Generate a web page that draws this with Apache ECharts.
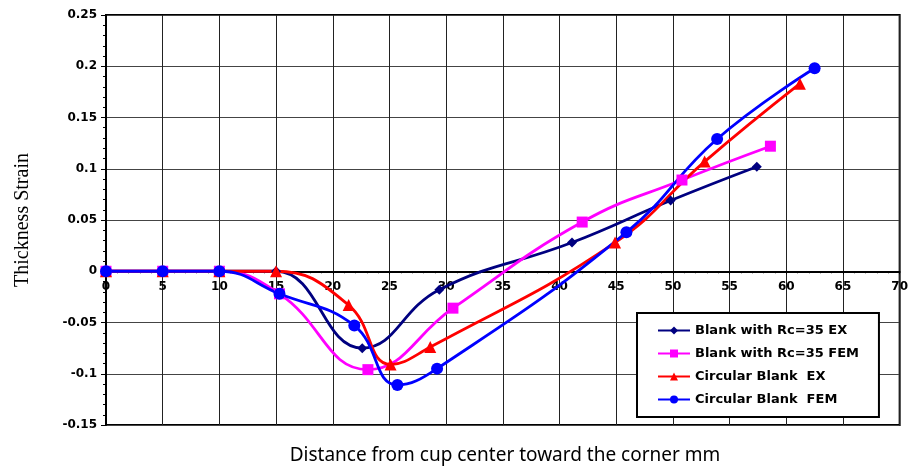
<!DOCTYPE html>
<html>
<head>
<meta charset="utf-8">
<script src="https://cdn.jsdelivr.net/npm/echarts@6/dist/echarts.min.js"></script>
<style>
  html, body { margin: 0; padding: 0; background: #fff; }
  #chart { width: 911px; height: 473px; }
</style>
</head>
<body>
<div id="chart"></div>
<script>
// Series data: [distance mm, thickness strain]
const rcEx = [[0, 0], [5, 0], [10, 0], [15, 0], [22.6, -0.075], [29.4, -0.018], [41.1, 0.028], [49.8, 0.069], [57.4, 0.102]];
const rcFem = [[0, 0], [5, 0], [10, 0], [15.3, -0.022], [23.1, -0.096], [30.6, -0.036], [42.0, 0.048], [50.8, 0.089], [58.6, 0.122]];
const circEx = [[0, 0], [5, 0], [10, 0], [15, 0], [21.4, -0.033], [25.1, -0.091], [28.6, -0.074], [44.9, 0.028], [52.8, 0.107], [61.2, 0.183]];
const circFem = [[0, 0], [5, 0], [10, 0], [15.3, -0.022], [21.9, -0.053], [25.7, -0.111], [29.2, -0.095], [45.9, 0.038], [53.9, 0.129], [62.5, 0.198]];

const seriesNames = ['Blank with Rc=35 EX', 'Blank with Rc=35 FEM', 'Circular Blank  EX', 'Circular Blank  FEM'];
const seriesColors = ['#000080', '#ff00ff', '#ff0000', '#0000ff'];
const seriesSymbols = ['diamond', 'rect', 'triangle', 'circle'];
const seriesSizes = [10, 11, 12, 12];
const seriesData = [rcEx, rcFem, circEx, circFem];

const chart = echarts.init(document.getElementById('chart'));

const labelFont = { fontFamily: 'DejaVu Sans', fontWeight: 'bold', fontSize: 12, color: '#000' };

// grid geometry: the x axis is drawn along the zero line
const gridTop = 15, gridBottom = 48;
const yMin = -0.15, yMax = 0.25;
const plotH = 473 - gridTop - gridBottom;
const zeroOffset = plotH * (0 - yMin) / (yMax - yMin);

const option = {
    animation: false,
    grid: {
        left: 106, right: 8, top: gridTop, bottom: gridBottom,
        show: true, borderColor: '#000', borderWidth: 2, backgroundColor: '#fff'
    },
    legend: {
        orient: 'vertical',
        left: 637, top: 313,
        padding: [11, 20, 11, 20],
        itemGap: 10,
        itemWidth: 32, itemHeight: 10,
        backgroundColor: '#fff',
        borderColor: '#000', borderWidth: 2,
        textStyle: { fontFamily: 'DejaVu Sans', fontWeight: 'bold', fontSize: 13, color: '#000' },
        data: seriesNames
    },
    xAxis: {
        type: 'value',
        min: 0, max: 70, interval: 5,
        offset: -zeroOffset,
        axisLine: { onZero: false, lineStyle: { color: '#000', width: 2 } },
        axisTick: { show: true, length: 3, lineStyle: { color: '#000' } },
        minorTick: { show: true, splitNumber: 5, length: 2, lineStyle: { color: '#000' } },
        axisLabel: Object.assign({ margin: 10 }, labelFont),
        splitLine: { show: true, lineStyle: { color: '#222', width: 1 } }
    },
    yAxis: {
        type: 'value',
        min: yMin, max: yMax, interval: 0.05,
        name: 'Thickness Strain',
        nameLocation: 'middle',
        nameGap: 73,
        nameTextStyle: { fontFamily: 'Liberation Serif', fontSize: 20, color: '#000' },
        axisLine: { show: true, onZero: false, lineStyle: { color: '#000', width: 2 } },
        axisTick: { show: true, length: 5, lineStyle: { color: '#000' } },
        minorTick: { show: true, splitNumber: 5, length: 3, lineStyle: { color: '#000' } },
        axisLabel: Object.assign({ margin: 9 }, labelFont),
        splitLine: { show: true, lineStyle: { color: '#444', width: 1 } }
    },
    graphic: [{
        type: 'text',
        x: 505, y: 456,
        style: {
            text: 'Distance from cup center toward the corner mm',
            fontFamily: 'Noto Sans', fontSize: 19, fill: '#000',
            align: 'center', verticalAlign: 'middle'
        }
    }],
    series: seriesNames.map((name, i) => ({
        name: name,
        type: 'line',
        data: seriesData[i],
        smooth: 0.45,
        symbol: seriesSymbols[i],
        symbolSize: seriesSizes[i],
        color: seriesColors[i],
        lineStyle: { color: seriesColors[i], width: 2.8 },
        itemStyle: { color: seriesColors[i] }
    }))
};

chart.setOption(option);
</script>
</body>
</html>
